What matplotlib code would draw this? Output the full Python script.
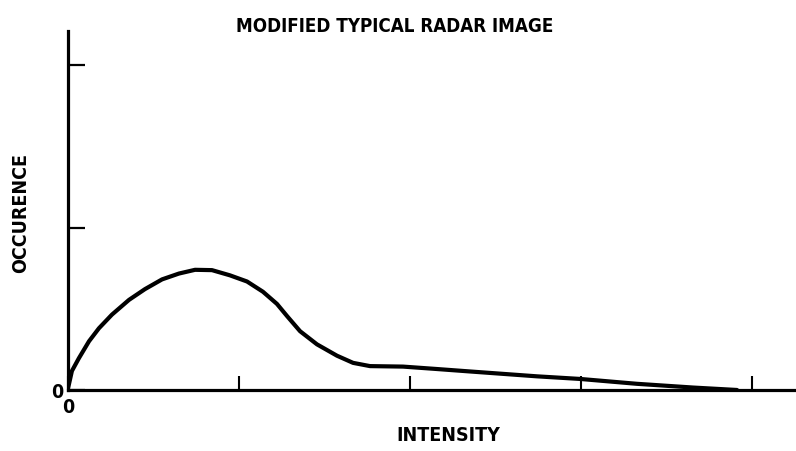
import matplotlib.pyplot as plt

# intensity / occurence in tick units
intensity = [0.0, 0.006, 0.023, 0.064, 0.123, 0.181, 0.257, 0.357, 0.450, 0.550,
             0.649, 0.743, 0.842, 0.947, 1.047, 1.140, 1.222, 1.281, 1.357, 1.456,
             1.573, 1.667, 1.766, 1.959, 2.158, 2.351, 2.743, 2.994, 3.327, 3.655,
             3.912]
occurence = [0.01, 0.037, 0.117, 0.196, 0.300, 0.380, 0.464, 0.555, 0.621, 0.681,
             0.717, 0.740, 0.738, 0.706, 0.668, 0.605, 0.530, 0.455, 0.362, 0.281,
             0.211, 0.167, 0.147, 0.144, 0.129, 0.114, 0.084, 0.068, 0.038, 0.015,
             0.0]

x_ticks = [0, 1, 2, 3, 4]
x_labels = ["0", "", "", "", ""]
y_ticks = [0, 1, 2]
y_labels = ["0", "", ""]

FONT = dict(family="DejaVu Sans", weight="bold", stretch="condensed")

fig = plt.figure(figsize=(7.96, 4.52), dpi=100)
ax = fig.add_axes([0.0854, 0.135, 0.9146, 0.794])

ax.plot(intensity, occurence, color="black", lw=3.0,
        solid_capstyle="round", solid_joinstyle="round")

ax.set_xlim(0, 4.257)
ax.set_ylim(0, 2.21)
for side in ("top", "right"):
    ax.spines[side].set_visible(False)
for side in ("left", "bottom"):
    ax.spines[side].set_linewidth(2.3)

ax.set_xticks(x_ticks)
ax.set_xticklabels(x_labels, fontsize=14, **FONT)
ax.set_yticks(y_ticks)
ax.set_yticklabels(y_labels, fontsize=14, **FONT)
ax.tick_params(axis="x", direction="in", length=10, width=1.5, pad=5)
ax.tick_params(axis="y", direction="in", length=12, width=1.6, pad=3)

fig.text(0.496, 0.941, "MODIFIED TYPICAL RADAR IMAGE", ha="center", va="center",
         fontsize=13.5, **FONT)
fig.text(0.563, 0.036, "INTENSITY", ha="center", va="center", fontsize=14, **FONT)
fig.text(0.026, 0.529, "OCCURENCE", ha="center", va="center", rotation=90,
         fontsize=14, **FONT)

fig.savefig("out.png", dpi=100, facecolor="white")
